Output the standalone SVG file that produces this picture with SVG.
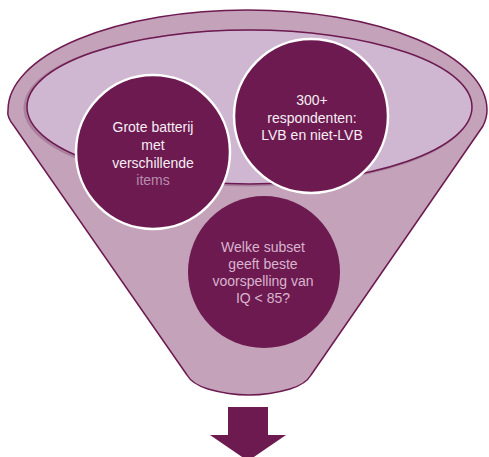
<svg xmlns="http://www.w3.org/2000/svg" width="489" height="457" viewBox="0 0 489 457">
<style>
.dark{fill:#6D1A50}
.node{fill:#6D1A50;stroke:#FFFFFF;stroke-width:2.5}
.t{font-family:"Liberation Sans",Arial,sans-serif;font-size:14px;text-anchor:middle}
.w{fill:#F6EEF4}
.f{fill:#B98DAE}
.p{fill:#D8B4CE}
</style>
<rect width="489" height="457" fill="#FFFFFF"/>
<g id="funnel">
<path d="M14,126 C9,120 7,115 8,110 A239.5 100 0 0 1 487,110 C487,116 486,120 483,126 L311,375 Q306,384 290,389 Q249,401 208,389 Q192,384 187,375 Z" fill="#C4A2BA" stroke="#6D1A50" stroke-width="1.5"/>
<ellipse cx="247.5" cy="108" rx="222.5" ry="77" fill="none" stroke="#9E7394" stroke-width="3" opacity="0.7"/>
<ellipse cx="249.5" cy="107" rx="222.5" ry="77" fill="#D0B7D1" stroke="#6D1A50" stroke-width="1.5"/>
</g>
<g id="node-batterij">
<circle class="node" cx="153" cy="152" r="77"/>
<text class="t w" x="153" y="132">Grote batterij</text>
<text class="t w" x="153" y="150">met</text>
<text class="t w" x="153" y="168">verschillende</text>
<text class="t f" x="153" y="185">items</text>
</g>
<g id="node-respondenten">
<circle class="node" cx="311" cy="116" r="77"/>
<text class="t w" x="312" y="105">300+</text>
<text class="t w" x="312" y="123">respondenten:</text>
<text class="t w" x="312" y="140">LVB en niet-LVB</text>
</g>
<g id="node-subset">
<circle class="dark" cx="264" cy="272" r="76"/>
<text class="t p" x="263" y="252">Welke subset</text>
<text class="t p" x="263" y="269">geeft beste</text>
<text class="t p" x="263" y="286">voorspelling van</text>
<text class="t p" x="263" y="303">IQ &lt; 85?</text>
</g>
<g id="connectors">
<polygon class="dark" points="228,407 268,407 268,435 286,435 248,461 210,435 228,435"/>
</g>
</svg>
